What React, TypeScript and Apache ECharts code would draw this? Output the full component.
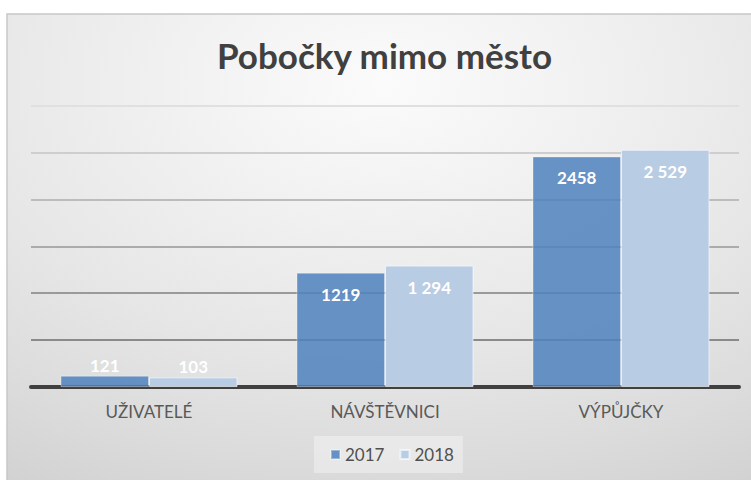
import React, { useEffect, useRef } from "react";
import * as echarts from "echarts";

const TITLE = "Pobočky mimo město";
const categories = ["UŽIVATELÉ", "NÁVŠTĚVNICI", "VÝPŮJČKY"];
const seriesNames = ["2017", "2018"];
const values2017 = [121, 1219, 2458];
const values2018 = [103, 1294, 2529];
const gridLineColors = ["#404040", "#8a8a8a", "#9a9a9a", "#ababab", "#bcbcbc", "#cecece", "#e0e0e0"];

const FONT = "Lato, 'Open Sans', sans-serif";

function fmtPlain(v: number) {
  return String(v);
}
function fmtSpaced(v: number) {
  return String(v).replace(/\B(?=(\d{3})+(?!\d))/g, " ");
}

function buildData(vals: number[]) {
  return vals.map((v) =>
    v < 300 ? { value: v, label: { position: "top", distance: 2 } } : v
  );
}

export default function App() {
  const ref = useRef<HTMLDivElement>(null);
  useEffect(() => {
    if (!ref.current) return;
    const chart = echarts.init(ref.current, null, { renderer: "svg" });
    const labelBase = {
      show: true,
      position: "insideTop",
      distance: 13,
      color: "#ffffff",
      fontWeight: "bold",
      fontSize: 17,
      fontFamily: FONT,
    };
    chart.setOption({
      animation: false,
      backgroundColor: "#ffffff",
      graphic: [
        {
          type: "rect",
          z: -100,
          shape: { x: 7, y: 14, width: 750, height: 470 },
          style: {
            fill: {
              type: "radial",
              x: 0.5,
              y: 0.15,
              r: 1.2,
              colorStops: [
                { offset: 0, color: "#fbfbfb" },
                { offset: 0.21, color: "#f2f2f2" },
                { offset: 0.48, color: "#e6e6e6" },
                { offset: 0.68, color: "#dbdbdb" },
                { offset: 0.95, color: "#c9c9c9" },
                { offset: 1, color: "#c7c7c7" },
              ],
            },
            stroke: "#c8c8c8",
            lineWidth: 1.5,
          },
        },
      ],
      title: {
        text: TITLE,
        left: 217,
        top: 37,
        padding: 0,
        textStyle: {
          fontFamily: FONT,
          fontSize: 35,
          fontWeight: "bold",
          color: "#404040",
        },
      },
      legend: {
        data: seriesNames,
        left: 314,
        top: 436,
        padding: [10, 9, 10, 16],
        backgroundColor: "rgba(255,255,255,0.35)",
        icon: "rect",
        itemWidth: 9,
        itemHeight: 9,
        itemGap: 15,
        textStyle: { fontFamily: FONT, fontSize: 17, color: "#505050" },
      },
      grid: { left: 31, right: 12, top: 105.6, bottom: 93 },
      xAxis: {
        type: "category",
        data: categories,
        axisLine: { show: true, lineStyle: { color: "#404040", width: 4 } },
        axisTick: { show: false },
        axisLabel: {
          margin: 16,
          fontFamily: FONT,
          fontSize: 17,
          color: "#595959",
        },
      },
      yAxis: {
        type: "value",
        min: 0,
        max: 3000,
        interval: 500,
        axisLabel: { show: false },
        axisLine: { show: false },
        axisTick: { show: false },
        splitLine: { lineStyle: { color: gridLineColors, width: 2 } },
      },
      series: [
        {
          name: seriesNames[0],
          type: "bar",
          barGap: "0%",
          barCategoryGap: "25%",
          data: buildData(values2017),
          itemStyle: {
            color: "rgba(79,129,189,0.85)",
            borderColor: "rgba(255,255,255,0.35)",
            borderWidth: 1,
          },
          label: { ...labelBase, formatter: (p: any) => fmtPlain(p.value) },
        },
        {
          name: seriesNames[1],
          type: "bar",
          data: buildData(values2018),
          itemStyle: {
            color: "#b8cce4",
            borderColor: "rgba(255,255,255,0.6)",
            borderWidth: 1,
          },
          label: { ...labelBase, formatter: (p: any) => fmtSpaced(p.value) },
        },
      ],
    });
    return () => chart.dispose();
  }, []);
  return (
    <div
      ref={ref}
      style={{ position: "fixed", left: 0, top: 0, width: 751, height: 480 }}
    />
  );
}
